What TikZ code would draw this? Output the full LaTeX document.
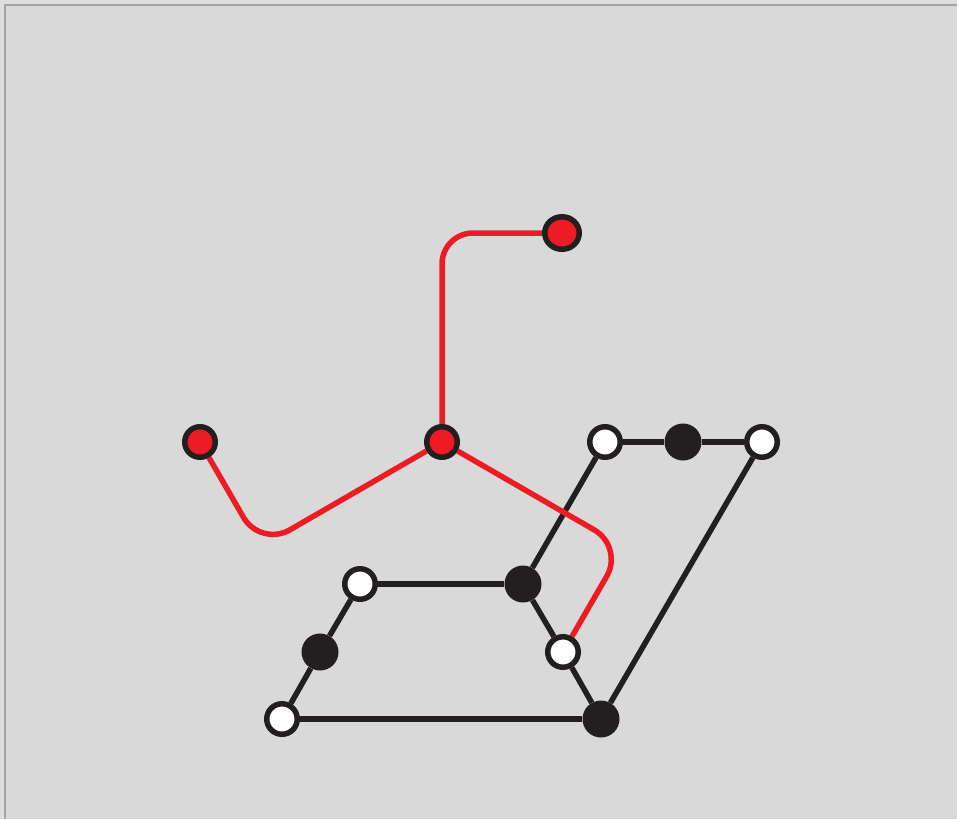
\documentclass[tikz,border=0pt]{standalone}
\usetikzlibrary{shapes.geometric,backgrounds}
\definecolor{bgout}{HTML}{DEDEDE}
\definecolor{bgin}{HTML}{D9D9D9}
\definecolor{frameline}{HTML}{A3A3A3}
\definecolor{ink}{HTML}{231F20}
\definecolor{redink}{HTML}{ED1C24}
\tikzset{
  x=1pt, y=-1pt,
  wnode/.style={circle, draw=ink, fill=white, line width=5.5pt, minimum size=30.5pt, inner sep=0pt},
  bnode/.style={circle, fill=ink, minimum size=37pt, inner sep=0pt},
  rnode/.style={circle, draw=ink, fill=redink, line width=5.5pt, minimum size=30.5pt, inner sep=0pt},
  rellipse/.style={ellipse, draw=ink, fill=redink, line width=5.5pt, minimum width=34.5pt, minimum height=32.5pt, inner sep=0pt},
  blackedge/.style={draw=ink, line width=5.5pt},
  rededge/.style={draw=redink, line width=5.5pt, rounded corners=34pt},
}
\begin{document}
\begin{tikzpicture}
\useasboundingbox (0,0) rectangle (957,819);
% nodes
\node[rellipse] (R1) at (562,233) {};
\node[rnode] (R2) at (200,442) {};
\node[rnode] (R3) at (442,442) {};
\node[wnode] (W1) at (605,442) {};
\node[bnode] (B1) at (683,442) {};
\node[wnode] (W2) at (762,442) {};
\node[wnode] (W3) at (360,584) {};
\node[bnode] (B2) at (523,584) {};
\node[bnode] (B3) at (320,652) {};
\node[wnode] (W4) at (563,652) {};
\node[wnode] (W5) at (282,719) {};
\node[bnode] (B4) at (601,719) {};
\coordinate (c1) at (260.5,546.8);
\coordinate (c2) at (623.7,546.9);
\begin{scope}[on background layer]
  \fill[bgout] (0,0) rectangle (957,819);
  \fill[bgin] (5,5) rectangle (957,819);
  \draw[frameline, line width=1.5pt] (5,819) -- (5,5) -- (957,5);
  % black edges
  \draw[blackedge] (W1) -- (B1) -- (W2);
  \draw[blackedge] (W1) -- (B2);
  \draw[blackedge] (W3) -- (B2);
  \draw[blackedge] (B2) -- (W4);
  \draw[blackedge] (W4) -- (B4);
  \draw[blackedge] (W2) -- (B4);
  \draw[blackedge] (W3) -- (B3) -- (W5);
  \draw[blackedge] (W5) -- (B4);
  % red edges
  \draw[rededge, rounded corners=31pt] (R3) |- (R1);
  \draw[rededge] (R2) -- (c1) -- (R3);
  \draw[rededge] (R3) -- (c2) -- (W4);
\end{scope}
\end{tikzpicture}
\end{document}
